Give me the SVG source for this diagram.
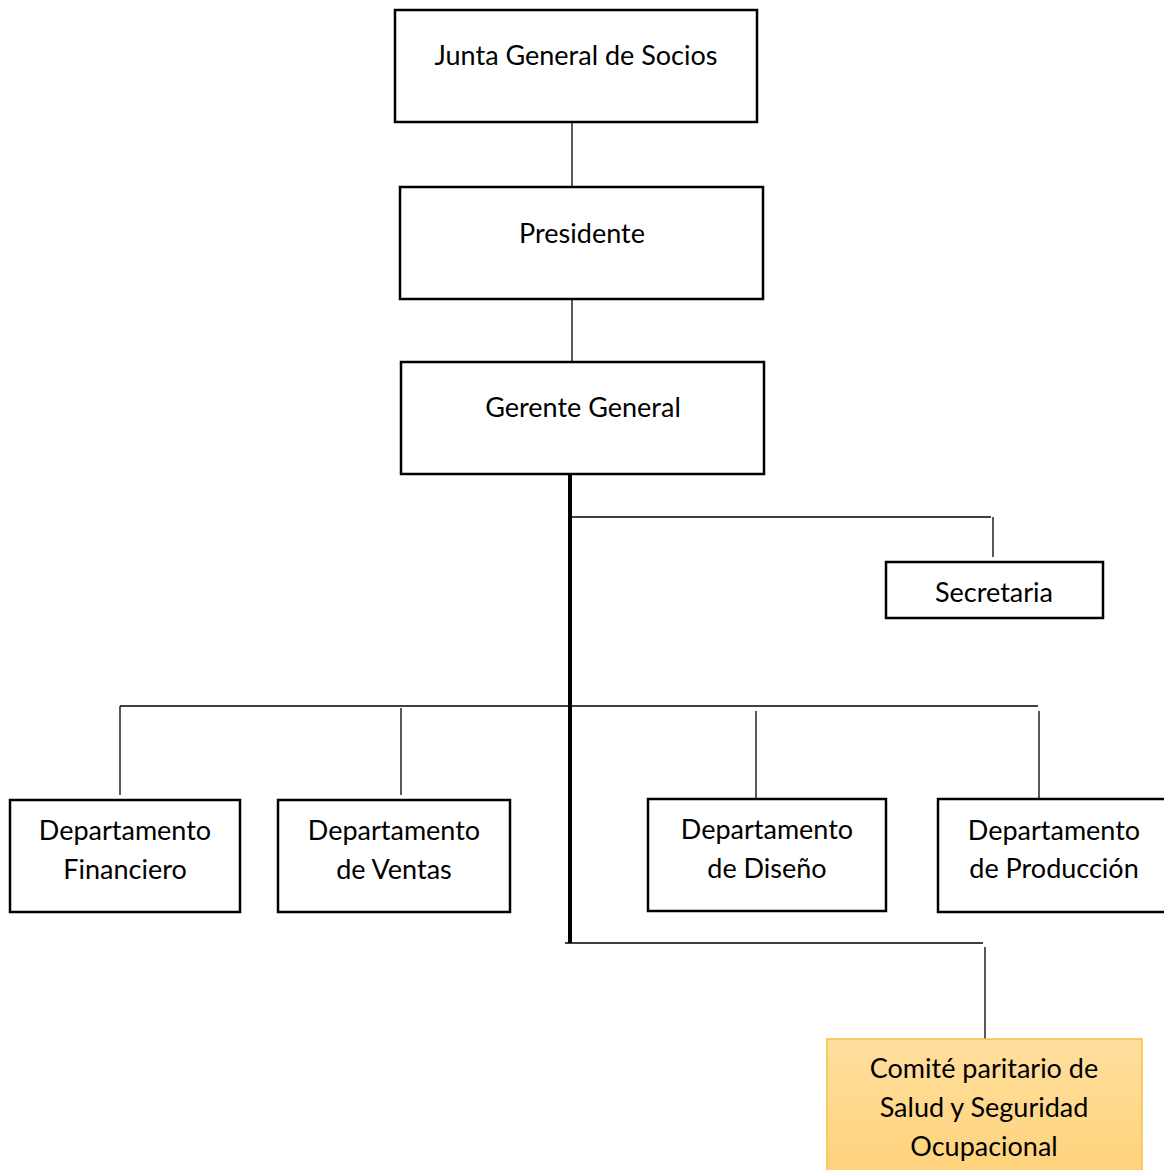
<svg xmlns="http://www.w3.org/2000/svg" width="1164" height="1170" viewBox="0 0 1164 1170">
<style>
.box{fill:#fff;stroke:#000;stroke-width:2.5}
.t{font-family:Lato,"Open Sans","Liberation Sans",sans-serif;font-size:27px;fill:#000;text-anchor:middle;dominant-baseline:central}
.c{stroke:#000;stroke-width:1.3;fill:none}
.thick{stroke:#000;stroke-width:4;fill:none}
</style>
<defs>
<linearGradient id="gold" x1="0" y1="0" x2="0" y2="1">
<stop offset="0" stop-color="#FFDF9E"/>
<stop offset="1" stop-color="#FFD27A"/>
</linearGradient>
</defs>
<rect width="1164" height="1170" fill="#fff"/>
<g id="connectors">
<line class="c" x1="572" y1="122" x2="572" y2="187"/>
<line class="c" x1="572" y1="295" x2="572" y2="362"/>
<line class="thick" x1="570" y1="474" x2="570" y2="943"/>
<polyline class="c" points="570,517 991,517"/>
<line class="c" x1="993" y1="517" x2="993" y2="557"/>
<line class="c" x1="120" y1="706" x2="1038" y2="706"/>
<line class="c" x1="120" y1="706" x2="120" y2="795"/>
<line class="c" x1="401" y1="708" x2="401" y2="795"/>
<line class="c" x1="756" y1="711" x2="756" y2="799"/>
<line class="c" x1="1039" y1="711" x2="1039" y2="799"/>
<line class="c" x1="565" y1="943" x2="983" y2="943"/>
<line class="c" x1="985" y1="947" x2="985" y2="1039"/>
</g>
<g id="junta"><rect class="box" x="395" y="10" width="362" height="112"/><text class="t" x="576" y="54">Junta General de Socios</text></g>
<g id="presidente"><rect class="box" x="400" y="187" width="363" height="112"/><text class="t" x="582" y="232">Presidente</text></g>
<g id="gerente"><rect class="box" x="401" y="362" width="363" height="112"/><text class="t" x="583" y="406">Gerente General</text></g>
<g id="secretaria"><rect class="box" x="886" y="562" width="217" height="56"/><text class="t" x="994" y="591">Secretaria</text></g>
<g id="financiero"><rect class="box" x="10" y="800" width="230" height="112"/><text class="t" x="125" y="829">Departamento</text><text class="t" x="125" y="868">Financiero</text></g>
<g id="ventas"><rect class="box" x="278" y="800" width="232" height="112"/><text class="t" x="394" y="829">Departamento</text><text class="t" x="394" y="868">de Ventas</text></g>
<g id="diseno"><rect class="box" x="648" y="799" width="238" height="112"/><text class="t" x="767" y="828">Departamento</text><text class="t" x="767" y="867">de Diseño</text></g>
<g id="produccion"><rect class="box" x="938" y="799" width="230" height="113"/><text class="t" x="1054" y="829">Departamento</text><text class="t" x="1054" y="867">de Producción</text></g>
<g id="comite"><rect x="827" y="1039" width="315" height="140" fill="url(#gold)" stroke="#F4C23E" stroke-width="1.5"/><text class="t" x="984" y="1067">Comité paritario de</text><text class="t" x="984" y="1106">Salud y Seguridad</text><text class="t" x="984" y="1145">Ocupacional</text></g>
</svg>
